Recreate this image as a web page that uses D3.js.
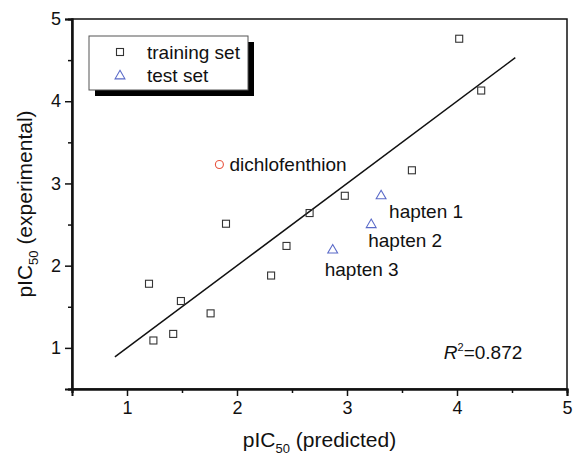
<!DOCTYPE html>
<html>
<head>
<meta charset="utf-8">
<script src="https://cdn.jsdelivr.net/npm/d3@7"></script>
<style>
body { margin: 0; background: #fff; }
text { font-family: "Liberation Sans", Arial, sans-serif; fill: #111; }
</style>
</head>
<body>
<script>
(function(){

//training set, predicted vs experimental
var trainPred = [4.02, 4.22, 3.59, 2.98, 2.66, 1.90, 2.45, 2.31, 1.20, 1.49, 1.76, 1.42, 1.24];
var trainExp  = [4.76, 4.13, 3.16, 2.85, 2.64, 2.51, 2.24, 1.88, 1.78, 1.57, 1.42, 1.17, 1.09];

//test set
var testNames = ["hapten 1", "hapten 2", "hapten 3"];
var testPred = [3.31, 3.22, 2.87];
var testExp  = [2.86, 2.51, 2.20];

//outlier
var outName = "dichlofenthion";
var outPred = [1.84];
var outExp  = [3.23];

//fit line ends
var fitX = [0.89, 4.53];
var fitY = [0.89, 4.53];

var majorTicks = [1, 2, 3, 4, 5];
var minorTicks = [0.5, 1.5, 2.5, 3.5, 4.5];
var r2 = "0.872";

var width = 573, height = 457;
var left = 72, right = 567, top = 19, bottom = 389;

var svg = d3.select("body").append("svg")
	.attr("width", width)
	.attr("height", height);

var x = d3.scaleLinear().domain([0.5, 5]).range([left, right]);
var y = d3.scaleLinear().domain([0.5, 5]).range([bottom, top]);

//frame
svg.append("rect")
	.attr("x", left).attr("y", top)
	.attr("width", right - left).attr("height", bottom - top)
	.attr("fill", "none").attr("stroke", "#111").attr("stroke-width", 1.5);

//axes
svg.append("g").attr("transform", "translate(0," + bottom + ")")
	.call(d3.axisBottom(x).tickValues(majorTicks).tickSize(7).tickPadding(5).tickFormat(d3.format("d")));
svg.append("g").attr("transform", "translate(0," + bottom + ")")
	.call(d3.axisBottom(x).tickValues(minorTicks).tickSize(4).tickFormat(""));
svg.append("g").attr("transform", "translate(" + left + ",0)")
	.call(d3.axisLeft(y).tickValues(majorTicks).tickSize(7).tickPadding(4).tickFormat(d3.format("d")));
svg.append("g").attr("transform", "translate(" + left + ",0)")
	.call(d3.axisLeft(y).tickValues(minorTicks).tickSize(4).tickFormat(""));

svg.selectAll(".domain").attr("stroke", "#111").attr("stroke-width", 2);
svg.selectAll(".tick line").attr("stroke", "#111").attr("stroke-width", 1.5);
svg.selectAll(".tick text").attr("font-size", 18).attr("font-family", "Liberation Sans, Arial, sans-serif").attr("fill", "#111");

//axis titles
var xt = svg.append("text")
	.attr("x", (left + right) / 2).attr("y", 447)
	.attr("text-anchor", "middle").attr("font-size", 21);
xt.append("tspan").text("pIC");
xt.append("tspan").attr("font-size", 13).attr("dy", 6).text("50");
xt.append("tspan").attr("dy", -6).text(" (predicted)");

var yt = svg.append("text")
	.attr("transform", "translate(32," + ((top + bottom) / 2) + ") rotate(-90)")
	.attr("text-anchor", "middle").attr("font-size", 21);
yt.append("tspan").text("pIC");
yt.append("tspan").attr("font-size", 13).attr("dy", 6).text("50");
yt.append("tspan").attr("dy", -6).text(" (experimental)");

//fit line
svg.append("line")
	.attr("x1", x(fitX[0])).attr("y1", y(fitY[0]))
	.attr("x2", x(fitX[1])).attr("y2", y(fitY[1]))
	.attr("stroke", "#111").attr("stroke-width", 1.5);

var sq = 7;
var triangle = d3.symbol().type(d3.symbolTriangle).size(42);

//training squares
svg.selectAll(".train")
	.data(trainPred)
	.enter()
	.append("rect")
	.attr("class", "train")
	.attr("x", function(d){ return x(d) - sq / 2; })
	.attr("y", function(d, i){ return y(trainExp[i]) - sq / 2; })
	.attr("width", sq).attr("height", sq)
	.attr("fill", "none").attr("stroke", "#333").attr("stroke-width", 1.1);

//test triangles
var labelOffsets = [[8, 16], [-3, 17], [-8, 20]];
svg.selectAll(".test")
	.data(testPred)
	.enter()
	.append("path")
	.attr("class", "test")
	.attr("d", triangle)
	.attr("transform", function(d, i){ return "translate(" + x(d) + "," + (y(testExp[i]) + 1) + ")"; })
	.attr("fill", "none").attr("stroke", "#5a6ac8").attr("stroke-width", 1.1);

svg.selectAll(".testLabel")
	.data(testNames)
	.enter()
	.append("text")
	.attr("class", "testLabel")
	.attr("x", function(d, i){ return x(testPred[i]) + labelOffsets[i][0]; })
	.attr("y", function(d, i){ return y(testExp[i]) + labelOffsets[i][1]; })
	.attr("dy", "0.35em")
	.attr("font-size", 19)
	.text(function(d){ return d; });

//outlier
svg.append("circle")
	.attr("cx", x(outPred[0])).attr("cy", y(outExp[0])).attr("r", 4)
	.attr("fill", "none").attr("stroke", "#e8553f").attr("stroke-width", 1.1);
svg.append("text")
	.attr("x", x(outPred[0]) + 10).attr("y", y(outExp[0]))
	.attr("dy", "0.35em").attr("font-size", 19)
	.text(outName);

//R squared
var rt = svg.append("text")
	.attr("x", x(3.88)).attr("y", y(0.95))
	.attr("dy", "0.35em").attr("font-size", 19);
rt.append("tspan").attr("font-style", "italic").text("R");
rt.append("tspan").attr("font-size", 11).attr("dy", -8).text("2");
rt.append("tspan").attr("dy", 8).text("=" + r2);

//legend with drop shadow
var lg = svg.append("g");
lg.append("rect").attr("x", 95).attr("y", 42).attr("width", 159).attr("height", 54).attr("fill", "#000");
lg.append("rect").attr("x", 89).attr("y", 36).attr("width", 159).attr("height", 54)
	.attr("fill", "#fff").attr("stroke", "#555").attr("stroke-width", 1);
lg.append("rect").attr("x", 120 - sq / 2).attr("y", 52 - sq / 2).attr("width", sq).attr("height", sq)
	.attr("fill", "none").attr("stroke", "#333").attr("stroke-width", 1.1);
lg.append("path").attr("d", triangle).attr("transform", "translate(120,76)")
	.attr("fill", "none").attr("stroke", "#5a6ac8").attr("stroke-width", 1.1);
lg.append("text").attr("x", 147).attr("y", 52).attr("dy", "0.35em").attr("font-size", 19).text("training set");
lg.append("text").attr("x", 147).attr("y", 75).attr("dy", "0.35em").attr("font-size", 19).text("test set");

})();
</script>
</body>
</html>
